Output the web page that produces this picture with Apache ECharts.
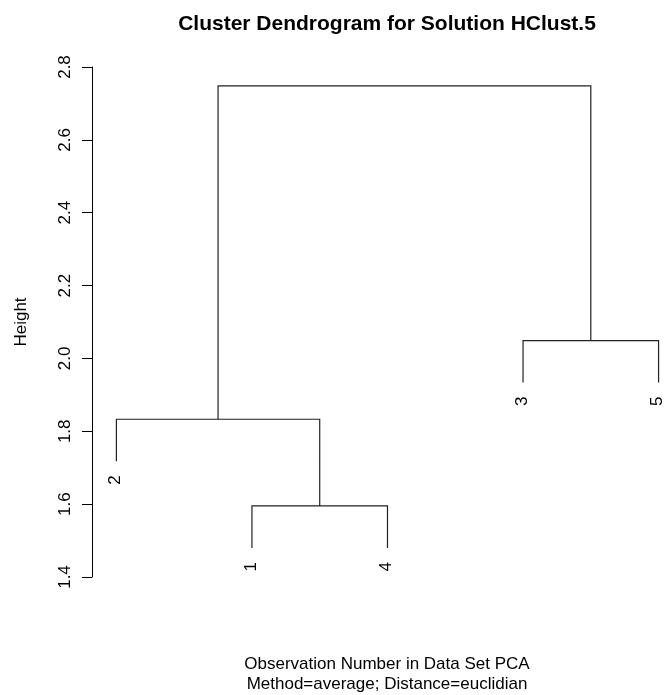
<!DOCTYPE html>
<html>
<head>
<meta charset="utf-8">
<script src="https://cdn.jsdelivr.net/npm/echarts@6/dist/echarts.min.js"></script>
<style>
  html, body { margin: 0; padding: 0; background: #fff; }
  #chart { width: 664px; height: 695px; }
</style>
</head>
<body>
<div id="chart"></div>
<script>
// Leaf labels in plotting order (left to right)
const leafOrder = ['2', '1', '4', '3', '5'];
// Merge steps, hclust style: negative = observation number, positive = earlier merge step
const mergeLeft = [-1, -2, -3, 2];
const mergeRight = [-4, 1, -5, 3];
const mergeHeights = [1.595, 1.833, 2.049, 2.748];
// Height axis ticks
const yTickMin = 1.4;
const yTickMax = 2.8;
const yTickStep = 0.2;

const FONT = '"Liberation Sans", Arial, sans-serif';

// Leaves hang 10% of the height range below their parent merge
const hang = 0.1 * (Math.max(...mergeHeights) - Math.min(...mergeHeights));

const nodeX = [];
function childInfo(id, parentH) {
  if (id < 0) {
    const label = String(-id);
    return { x: leafOrder.indexOf(label) + 1, bottom: parentH - hang, label: label };
  }
  return { x: nodeX[id - 1], bottom: mergeHeights[id - 1], label: null };
}

// One branch per merge: [xA, bottomA, xB, bottomB, height]
const branchLabels = [];
const branches = mergeHeights.map((h, i) => {
  const a = childInfo(mergeLeft[i], h);
  const b = childInfo(mergeRight[i], h);
  nodeX[i] = (a.x + b.x) / 2;
  branchLabels.push([a.label, b.label]);
  return [a.x, a.bottom, b.x, b.bottom, h];
});

const chart = echarts.init(document.getElementById('chart'), null, { renderer: 'canvas' });

chart.setOption({
  animation: false,
  backgroundColor: '#fff',
  textStyle: { fontFamily: FONT },
  grid: { left: 92, right: 0, top: 67, bottom: 118, containLabel: false },
  xAxis: {
    type: 'value',
    min: 0.82,
    max: 5.04,
    show: false
  },
  yAxis: {
    type: 'value',
    min: yTickMin,
    max: yTickMax,
    interval: yTickStep,
    name: 'Height',
    nameLocation: 'middle',
    nameGap: 62,
    nameTextStyle: { fontSize: 17, color: '#000', fontFamily: FONT },
    axisLine: { show: true, lineStyle: { color: '#000', width: 1 } },
    axisTick: { show: true, length: 10, lineStyle: { color: '#000', width: 1 } },
    axisLabel: {
      rotate: 90,
      margin: 18,
      fontSize: 17,
      color: '#000',
      fontFamily: FONT,
      formatter: v => v.toFixed(1)
    },
    splitLine: { show: false }
  },
  graphic: [
    {
      type: 'text', x: 387, y: 24,
      style: {
        text: 'Cluster Dendrogram for Solution HClust.5',
        align: 'center', verticalAlign: 'middle',
        font: 'bold 21px ' + FONT, fill: '#000'
      }
    },
    {
      type: 'text', x: 387, y: 674,
      style: {
        text: 'Observation Number in Data Set PCA\nMethod=average; Distance=euclidian',
        align: 'center', verticalAlign: 'middle', lineHeight: 20,
        font: '17px ' + FONT, fill: '#000'
      }
    }
  ],
  series: [{
    type: 'custom',
    coordinateSystem: 'cartesian2d',
    clip: false,
    encode: { x: [0, 2], y: [1, 3, 4] },
    data: branches,
    renderItem: function (params, api) {
      const xa = api.value(0), ya = api.value(1);
      const xb = api.value(2), yb = api.value(3);
      const h = api.value(4);
      const pts = [
        api.coord([xa, ya]),
        api.coord([xa, h]),
        api.coord([xb, h]),
        api.coord([xb, yb])
      ];
      const children = [{
        type: 'polyline',
        shape: { points: pts },
        style: { stroke: '#222', lineWidth: 1.2, fill: null }
      }];
      const labels = branchLabels[params.dataIndex];
      [[labels[0], pts[0]], [labels[1], pts[3]]].forEach(function (pair) {
        if (pair[0]) {
          children.push({
            type: 'text',
            x: pair[1][0] - 1,
            y: pair[1][1] + 14,
            rotation: Math.PI / 2,
            style: {
              text: pair[0],
              align: 'right',
              verticalAlign: 'middle',
              font: '17px ' + FONT,
              fill: '#000'
            }
          });
        }
      });
      return { type: 'group', children: children };
    }
  }]
});
</script>
</body>
</html>
